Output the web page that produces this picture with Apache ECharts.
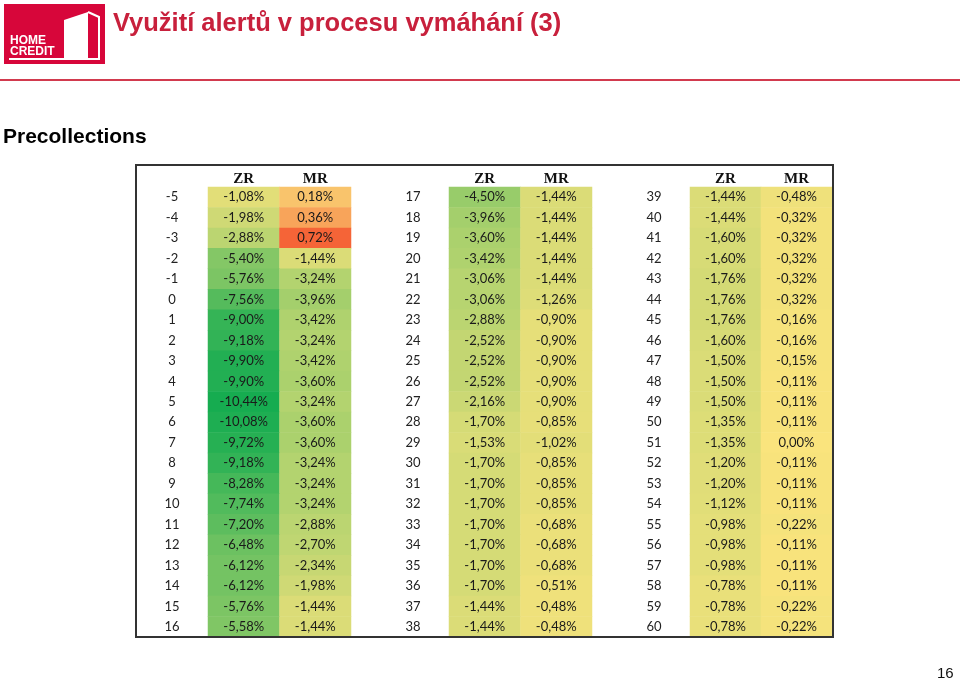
<!DOCTYPE html>
<html>
<head>
<meta charset="utf-8">
<script src="https://cdn.jsdelivr.net/npm/echarts@6/dist/echarts.min.js"></script>
<style>html,body{margin:0;padding:0;background:#fff}#c{width:960px;height:680px}</style>
</head>
<body>
<div id="c"></div>
<script>
const columns = ['ZR', 'MR'];
const rows1 = [-5,-4,-3,-2,-1,0,1,2,3,4,5,6,7,8,9,10,11,12,13,14,15,16];
const zr1 = [-1.08,-1.98,-2.88,-5.40,-5.76,-7.56,-9.00,-9.18,-9.90,-9.90,-10.44,-10.08,-9.72,-9.18,-8.28,-7.74,-7.20,-6.48,-6.12,-6.12,-5.76,-5.58];
const mr1 = [0.18,0.36,0.72,-1.44,-3.24,-3.96,-3.42,-3.24,-3.42,-3.60,-3.24,-3.60,-3.60,-3.24,-3.24,-3.24,-2.88,-2.70,-2.34,-1.98,-1.44,-1.44];
const rows2 = [17,18,19,20,21,22,23,24,25,26,27,28,29,30,31,32,33,34,35,36,37,38];
const zr2 = [-4.50,-3.96,-3.60,-3.42,-3.06,-3.06,-2.88,-2.52,-2.52,-2.52,-2.16,-1.70,-1.53,-1.70,-1.70,-1.70,-1.70,-1.70,-1.70,-1.70,-1.44,-1.44];
const mr2 = [-1.44,-1.44,-1.44,-1.44,-1.44,-1.26,-0.90,-0.90,-0.90,-0.90,-0.90,-0.85,-1.02,-0.85,-0.85,-0.85,-0.68,-0.68,-0.68,-0.51,-0.48,-0.48];
const rows3 = [39,40,41,42,43,44,45,46,47,48,49,50,51,52,53,54,55,56,57,58,59,60];
const zr3 = [-1.44,-1.44,-1.60,-1.60,-1.76,-1.76,-1.76,-1.60,-1.50,-1.50,-1.50,-1.35,-1.35,-1.20,-1.20,-1.12,-0.98,-0.98,-0.98,-0.78,-0.78,-0.78];
const mr3 = [-0.48,-0.32,-0.32,-0.32,-0.32,-0.32,-0.16,-0.16,-0.15,-0.11,-0.11,-0.11,0.00,-0.11,-0.11,-0.11,-0.22,-0.11,-0.11,-0.11,-0.22,-0.22];

// 3-colour scale: min -> green, 0 -> yellow, max -> red
const GREEN = [22,172,80], YELLOW = [250,228,125], RED = [245,100,55];
const vMin = -10.44, vMax = 0.72, step = 0.36;
function mix(a,b,t){return 'rgb('+a.map((v,i)=>Math.round(v+(b[i]-v)*t)).join(',')+')';}
const stops = [];
for (let k = 0; k <= Math.round((vMax - vMin)/step); k++) {
  const v = vMin + k*step;
  stops.push(v <= 0 ? mix(GREEN, YELLOW, (v - vMin)/(0 - vMin)) : mix(YELLOW, RED, v/vMax));
}

const blocks = [[rows1, zr1, mr1, 208, 143], [rows2, zr2, mr2, 449, 143], [rows3, zr3, mr3, 690, 142]];
const fmt = v => v.toFixed(2).replace('.', ',') + '%';
const numFont = 'Lato, "Noto Sans", sans-serif';

const grid = [], xAxis = [], yAxis = [], series = [];
blocks.forEach((b, i) => {
  const [rows, zr, mr, left, width] = b;
  grid.push({left: left, top: 187, width: width, height: 450});
  xAxis.push({type: 'category', gridIndex: i, data: columns, position: 'top',
    axisLine: {show: false}, axisTick: {show: false}, splitLine: {show: false},
    axisLabel: {fontFamily: '"Liberation Serif", serif', fontWeight: 'bold', fontSize: 15, color: '#111', margin: 0}});
  yAxis.push({type: 'category', gridIndex: i, data: rows.map(String), inverse: true,
    axisLine: {show: false}, axisTick: {show: false}, splitLine: {show: false},
    axisLabel: {fontFamily: numFont, fontSize: 13, color: '#222', align: 'center', margin: 36}});
  const data = [];
  rows.forEach((r, j) => { data.push([0, j, zr[j]]); data.push([1, j, mr[j]]); });
  series.push({type: 'heatmap', xAxisIndex: i, yAxisIndex: i, data: data,
    itemStyle: {borderWidth: 0},
    label: {show: true, formatter: p => fmt(p.value[2]), fontFamily: numFont, fontSize: 13, color: '#1a1a1a'},
    emphasis: {disabled: true}});
});

const chart = echarts.init(document.getElementById('c'), null, {renderer: 'canvas'});
chart.setOption({
  animation: false,
  backgroundColor: '#fff',
  grid: grid, xAxis: xAxis, yAxis: yAxis, series: series,
  visualMap: {show: false, type: 'continuous', min: vMin, max: vMax, dimension: 2,
    seriesIndex: [0,1,2], inRange: {color: stops}},
  title: [
    {text: 'Využití alertů v procesu vymáhání (3)', left: 108, top: 6,
      textStyle: {fontFamily: '"Liberation Sans", Arial, sans-serif', fontWeight: 'bold', fontSize: 25.5, color: '#c8203c'}},
    {text: 'Precollections', left: -2, top: 122,
      textStyle: {fontFamily: '"Liberation Sans", Arial, sans-serif', fontWeight: 'bold', fontSize: 21, color: '#000'}}
  ],
  graphic: [
    {type: 'rect', shape: {x: 4, y: 4, width: 101, height: 60}, style: {fill: '#d7063a'}},
    {type: 'polygon', shape: {points: [[64,20],[88,12],[88,58],[64,58]]}, style: {fill: '#fff'}},
    {type: 'polyline', shape: {points: [[88,12],[99,17],[99,60]]}, style: {stroke: '#fff', lineWidth: 2, fill: null}},
    {type: 'line', shape: {x1: 9, y1: 59, x2: 99, y2: 59}, style: {stroke: '#fff', lineWidth: 2}},
    {type: 'text', x: 10, y: 35, style: {text: 'HOME', fill: '#fff', font: 'bold 12px "Liberation Sans", Arial'}},
    {type: 'text', x: 10, y: 46, style: {text: 'CREDIT', fill: '#fff', font: 'bold 12px "Liberation Sans", Arial'}},
    {type: 'rect', shape: {x: 0, y: 79, width: 960, height: 2}, style: {fill: '#d23a4e'}},
    {type: 'rect', shape: {x: 136, y: 165, width: 697, height: 472}, style: {fill: null, stroke: '#333', lineWidth: 2}, z: 10},
    {type: 'text', x: 937, y: 666, style: {text: '16', fill: '#111', font: '15px "Liberation Sans", Arial'}}
  ]
});
</script>
</body>
</html>
